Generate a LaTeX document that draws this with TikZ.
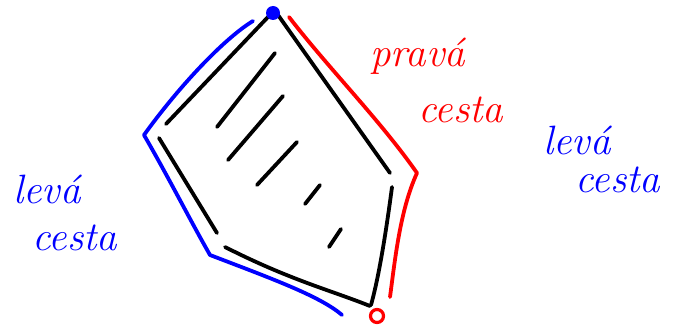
\documentclass[tikz,border=0pt]{standalone}
\usepackage{fontspec}
\begin{document}
\begin{tikzpicture}[x=1pt,y=-1pt,
  pen/.style={line width=3.8pt,line cap=round,line join=round},
  lbl/.style={font=\fontsize{41}{#1}\selectfont\itshape,align=left,inner sep=0pt,anchor=base west},
  lbl/.default=48]
\useasboundingbox (0,0) rectangle (675,334);
% outline of the region
\draw[pen] (268,17) -- (166,124);
\draw[pen] (159,138) -- (217,233);
\draw[pen] (225,247) .. controls (290,280) and (330,290) .. (370,306);
\draw[pen] (278,15) -- (390,173);
\draw[pen] (392,187) .. controls (385,240) and (378,280) .. (371,305);
% hatching
\draw[pen] (275,53) -- (217,127);
\draw[pen] (283,96) -- (228,160);
\draw[pen] (297,142) -- (257,185);
\draw[pen] (320,185) -- (305,204);
\draw[pen] (341,229) -- (329,247);
% end points
\node[circle,fill=blue,minimum size=14pt,inner sep=0pt] (top) at (273,13) {};
\node[circle,draw=red,line width=3.2pt,minimum size=13pt,inner sep=0pt] (bot) at (377,316) {};
% left path (blue)
\draw[pen,blue] (253,21) .. controls (225,38) and (180,85) .. (144,135)
  .. controls (170,180) and (190,220) .. (210,255)
  .. controls (270,278) and (320,296) .. (342,315);
% right path (red)
\draw[pen,red] (289,17) .. controls (330,70) and (380,120) .. (417,173)
  .. controls (400,210) and (395,260) .. (390,297);
% labels
\node[lbl=56,red] (prava) at (370,123) {pravá\\\hspace*{48pt}cesta};
\node[lbl=38,blue] (levaR) at (543,193) {levá\\\hspace*{32pt}cesta};
\node[lbl=47,blue] (levaL) at (13,250) {levá\\\hspace*{19pt}cesta};
\end{tikzpicture}
\end{document}
